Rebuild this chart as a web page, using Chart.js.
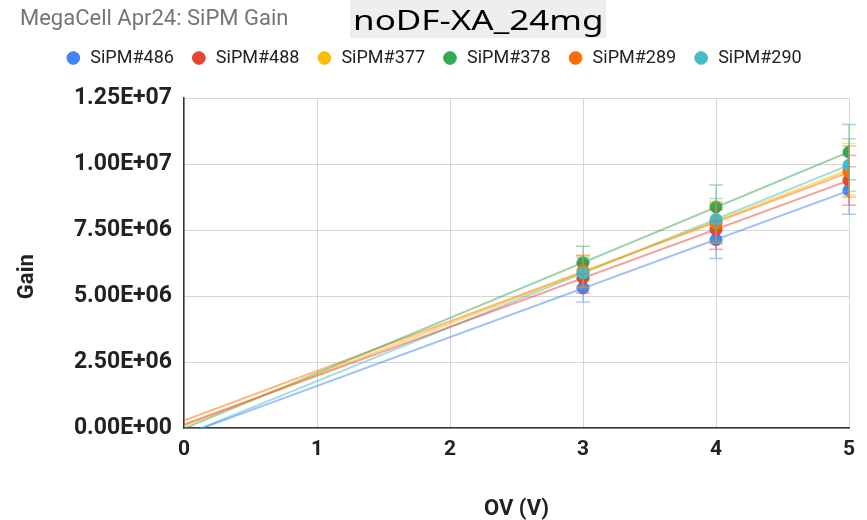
<!DOCTYPE html>
<html>
<head>
<meta charset="utf-8">
<script src="https://cdn.jsdelivr.net/npm/chart.js@4"></script>
<style>
    html, body { margin: 0; padding: 0; background: #fff; }
    #wrap { position: relative; width: 867px; height: 520px; }
    #title {
        position: absolute; left: 20px; top: 5px; font-family: Roboto, sans-serif;
        font-size: 22px; line-height: 26px; color: #757575; white-space: nowrap;
    }
    #tag {
        position: absolute; left: 350px; top: 0; width: 256px; height: 38px;
        background: #eeeeee; overflow: hidden;
    }
    #tag span {
        position: absolute; left: 3px; top: 0; font-family: "Noto Sans", sans-serif;
        font-size: 28px; line-height: 38px; color: #000; white-space: nowrap;
        transform-origin: 0 50%;
    }
</style>
</head>
<body>
<div id="wrap">
    <canvas id="myChart" width="867" height="520"></canvas>
    <div id="title">MegaCell Apr24: SiPM Gain</div>
    <div id="tag"><span>noDF-XA_24mg</span></div>
</div>
<script>
const ovValues = [3, 4, 5];
const seriesNames = ["SiPM#486", "SiPM#488", "SiPM#377", "SiPM#378", "SiPM#289", "SiPM#290"];
const seriesColors = ["#4285F4", "#EA4335", "#FBBC04", "#34A853", "#FF6D01", "#46BDC6"];
const gain486 = [5.30e6, 7.13e6, 9.00e6];
const gain488 = [5.68e6, 7.52e6, 9.38e6];
const gain377 = [5.92e6, 7.80e6, 9.80e6];
const gain378 = [6.26e6, 8.37e6, 10.45e6];
const gain289 = [5.95e6, 7.74e6, 9.71e6];
const gain290 = [5.87e6, 7.90e6, 9.96e6];
const errorPercent = 10;
const xTicks = [0, 1, 2, 3, 4, 5];

const allGains = [gain486, gain488, gain377, gain378, gain289, gain290];

// least squares line, like the sheet's linear trendline
function fitLine(xs, ys) {
    const n = xs.length;
    const mx = xs.reduce((a, b) => a + b, 0) / n;
    const my = ys.reduce((a, b) => a + b, 0) / n;
    let sxy = 0, sxx = 0;
    for (let i = 0; i < n; i++) {
        sxy += (xs[i] - mx) * (ys[i] - my);
        sxx += (xs[i] - mx) * (xs[i] - mx);
    }
    const m = sxy / sxx;
    return { m: m, b: my - m * mx };
}

function fade(hex, a) {
    const r = parseInt(hex.slice(1, 3), 16), g = parseInt(hex.slice(3, 5), 16), b = parseInt(hex.slice(5, 7), 16);
    return "rgba(" + r + "," + g + "," + b + "," + a + ")";
}

function sciLabel(v) {
    const parts = Number(v).toExponential(2).split("e");
    let exp = parseInt(parts[1], 10);
    const sign = exp < 0 ? "-" : "+";
    exp = Math.abs(exp);
    return parts[0] + "E" + sign + (exp < 10 ? "0" + exp : exp);
}

const datasets = [];
allGains.forEach((g, i) => {
    datasets.push({
        label: seriesNames[i],
        data: ovValues.map((x, j) => ({ x: x, y: g[j] })),
        backgroundColor: seriesColors[i],
        borderColor: seriesColors[i],
        pointRadius: 6,
        pointHoverRadius: 6,
        showLine: false,
        order: 6 - i,
    });
});
allGains.forEach((g, i) => {
    const f = fitLine(ovValues, g);
    const x0 = xTicks[0], x1 = xTicks[xTicks.length - 1];
    datasets.push({
        label: "trend " + seriesNames[i],
        data: [{ x: x0, y: f.m * x0 + f.b }, { x: x1, y: f.m * x1 + f.b }],
        borderColor: fade(seriesColors[i], 0.5),
        borderWidth: 2,
        pointRadius: 0,
        showLine: true,
        order: 20,
        isTrend: true,
    });
});

const errorBars = {
    id: "errorBars",
    afterDatasetsDraw(chart) {
        const ctx = chart.ctx;
        const xs = chart.scales.x, ys = chart.scales.y;
        ctx.save();
        allGains.forEach((g, i) => {
            ctx.strokeStyle = fade(seriesColors[i], 0.45);
            ctx.lineWidth = 1.5;
            ovValues.forEach((x, j) => {
                const px = xs.getPixelForValue(x);
                const e = g[j] * errorPercent / 100;
                const top = ys.getPixelForValue(g[j] + e);
                const bot = ys.getPixelForValue(g[j] - e);
                ctx.beginPath();
                ctx.moveTo(px, top); ctx.lineTo(px, bot);
                ctx.moveTo(px - 7, top); ctx.lineTo(px + 7, top);
                ctx.moveTo(px - 7, bot); ctx.lineTo(px + 7, bot);
                ctx.stroke();
            });
        });
        ctx.restore();
    }
};

// keep the gap between legend and plot like the sheet
const legendGap = {
    id: "legendGap",
    afterInit(chart) {
        const lg = chart.legend;
        const fit = lg.fit.bind(lg);
        lg.fit = function () { fit(); this.height = 66; };
    }
};

const config = {
    type: "scatter",
    data: { datasets: datasets },
    options: {
        responsive: false,
        animation: false,
        layout: { padding: { left: 0, right: 0, top: 32, bottom: 0 } },
        plugins: {
            legend: {
                position: "top",
                labels: {
                    usePointStyle: true,
                    pointStyle: "circle",
                    boxWidth: 16,
                    boxHeight: 9,
                    padding: 17,
                    color: "#222",
                    font: { family: "Roboto", size: 18 },
                    filter: (item, data) => !data.datasets[item.datasetIndex].isTrend,
                    sort: (a, b) => a.datasetIndex - b.datasetIndex,
                },
            },
            tooltip: { enabled: false },
        },
        scales: {
            x: {
                type: "linear",
                min: 0,
                max: 5,
                afterBuildTicks: (s) => { s.ticks = xTicks.map(v => ({ value: v })); },
                afterFit: (s) => { s.height = 92; },
                ticks: {
                    color: "#222",
                    font: { family: "Roboto", size: 21, weight: "bold" },
                    padding: 9,
                },
                grid: { color: "#d6d6d6", drawTicks: false },
                border: { color: "#333", width: 1.5 },
                title: {
                    display: true,
                    text: "OV (V)",
                    color: "#222",
                    font: { family: "Roboto", size: 22, weight: "bold" },
                    padding: { top: 0, bottom: -3 },
                },
            },
            y: {
                min: 0,
                max: 1.25e7,
                afterFit: (s) => { s.width = 184; },
                ticks: {
                    stepSize: 2.5e6,
                    color: "#222",
                    font: { family: "Roboto", size: 23, weight: "bold" },
                    padding: 12,
                    callback: (v) => sciLabel(v),
                },
                grid: { color: "#d6d6d6", drawTicks: false },
                border: { color: "#333", width: 1.5 },
                title: {
                    display: true,
                    text: "Gain     ",
                    color: "#222",
                    font: { family: "Roboto", size: 22, weight: "bold" },
                    padding: { top: 14, bottom: 0 },
                },
            },
            // empty right margin so the legend stays centred on the page
            yRight: {
                position: "right",
                display: true,
                afterFit: (s) => { s.width = 18; },
                ticks: { display: false },
                grid: { display: false, drawTicks: false },
                border: { display: false },
            },
        },
    },
    plugins: [errorBars, legendGap],
};

window.onload = () => {
    const span = document.querySelector("#tag span");
    span.style.transform = "scaleX(" + (250 / span.offsetWidth) + ")";
    new Chart(document.getElementById("myChart"), config);
};
</script>
</body>
</html>
